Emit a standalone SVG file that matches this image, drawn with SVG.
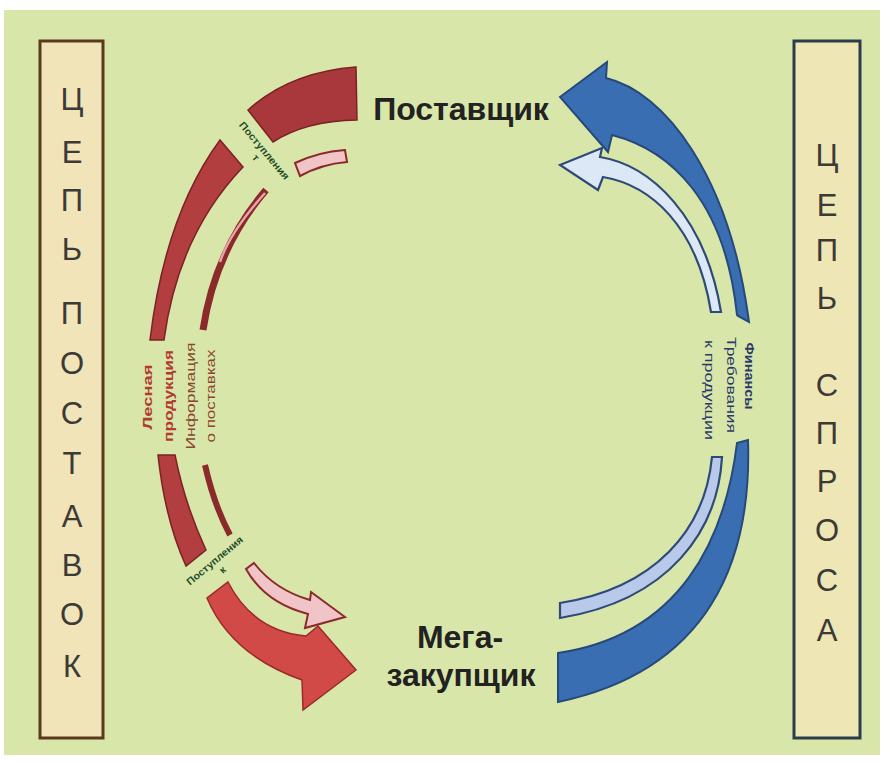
<svg xmlns="http://www.w3.org/2000/svg" width="883" height="763" viewBox="0 0 883 763">
<style>
.bigL{font-family:"Liberation Sans",Arial,sans-serif;font-size:31px;fill:#3b3a36;text-anchor:middle}
.node{font-family:"Liberation Sans",Arial,sans-serif;font-weight:bold;font-size:32px;fill:#222;text-anchor:middle}
.lblR{font-family:"Liberation Sans",Arial,sans-serif;font-size:13px;font-weight:bold;fill:#b23a30;text-anchor:middle}
.lblI{font-family:"Liberation Sans",Arial,sans-serif;font-size:13px;fill:#8a4630;text-anchor:middle}
.lblB{font-family:"Liberation Sans",Arial,sans-serif;font-size:13px;fill:#2a3a6a;text-anchor:middle}
.lblG{font-family:"Liberation Sans",Arial,sans-serif;font-size:10px;font-weight:bold;fill:#1d4d2a;text-anchor:middle}
.redD{fill:#a8383b;stroke:#7a2224;stroke-width:1.5}
.redM{fill:#b23e3f;stroke:#7a2224;stroke-width:1.5}
.redB{fill:#d24a48;stroke:#9a2a2a;stroke-width:1.5}
.pink{fill:#f1c4c8;stroke:#8a2a2a;stroke-width:2}
.blueD{fill:#3a6eb2;stroke:#27497a;stroke-width:2}
.blueL{fill:#dce8f6;stroke:#2e4a78;stroke-width:2.2}
.blueL2{fill:#b9c9ea;stroke:#2e4a78;stroke-width:2.2}
</style>
<rect x="0" y="0" width="883" height="763" fill="#ffffff"/>
<rect x="4" y="10" width="876" height="745" fill="#d9e6a9"/>

<g id="supply-chain">
<rect x="40" y="41" width="63" height="697" fill="#f1e4b9" stroke="#5a3a1a" stroke-width="3"/>
<text class="bigL"><tspan x="72" y="110">Ц</tspan><tspan x="72" y="163">Е</tspan><tspan x="72" y="211">П</tspan><tspan x="72" y="260">Ь</tspan><tspan x="72" y="324">П</tspan><tspan x="72" y="374">О</tspan><tspan x="72" y="424">С</tspan><tspan x="72" y="474">Т</tspan><tspan x="72" y="527">А</tspan><tspan x="72" y="576">В</tspan><tspan x="72" y="625">О</tspan><tspan x="72" y="677">К</tspan></text>
</g>

<g id="demand-chain">
<rect x="794" y="41" width="66" height="697" fill="#efe6b5" stroke="#2c3c4c" stroke-width="3"/>
<text class="bigL"><tspan x="827" y="166">Ц</tspan><tspan x="827" y="216">Е</tspan><tspan x="827" y="261">П</tspan><tspan x="827" y="309">Ь</tspan><tspan x="827" y="396">С</tspan><tspan x="827" y="444">П</tspan><tspan x="827" y="492">Р</tspan><tspan x="827" y="541">О</tspan><tspan x="827" y="591">С</tspan><tspan x="827" y="641">А</tspan></text>
</g>

<g id="supplier">
<text class="node" x="461" y="120">Поставщик</text>
</g>

<g id="mega-buyer">
<text class="node" x="460" y="648">Мега-</text>
<text class="node" x="461" y="686">закупщик</text>
</g>

<g id="connectors">
<path class="redD" d="M248,110 Q290,72 356,67 L357,120 Q305,121 273,142 Z"/>
<path class="redM" d="M220,140 Q165,215 150,340 L164,340 Q178,235 243,167 Z"/>
<path class="pink" d="M295,163 Q318,152 345,150 L347,162 Q322,164 300,176 Z"/>
<path d="M266,190 Q215,250 203,330" fill="none" stroke="#8a2a2a" stroke-width="7"/>
<path d="M265,193 Q230,232 220,262" fill="none" stroke="#e7a2aa" stroke-width="2.5"/>
<path class="redM" d="M158,455 Q165,520 186,566 L206,550 Q185,505 175,455 Z"/>
<path d="M205,465 Q214,505 230,535" fill="none" stroke="#8a2a2a" stroke-width="6"/>
<path class="redB" d="M207,598 Q231,655 302,680 L303,710 L356,670 L318,626 L306,636 Q253,631 228,582 Z"/>
<path class="pink" d="M254,563 Q275,590 310,600 L311,592 L345,617 L305,628 L308,614 Q265,603 246,569 Z"/>
<path class="blueD" d="M560,97 L607,62 L606,78 C665,92 728,175 748,315 L749,322 L738,316 L737,315 C725,200 670,150 612,135 L608,152 Z"/>
<path class="blueL" d="M560,165 L602,148 L600,157 C650,165 705,215 721,312 L711,312 C697,225 650,185 603,177 L598,190 Z"/>
<path class="blueD" d="M737,443 L748,440 C752,560 710,670 558,702 L558,653 C680,635 725,540 737,443 Z"/>
<path class="blueL2" d="M712,457 L722,457 C718,530 670,600 560,618 L560,603 C655,588 705,530 712,457 Z"/>

<g transform="translate(264,151) rotate(50)">
<text class="lblG" x="0" y="3" textLength="72" lengthAdjust="spacingAndGlyphs">Поступления</text>
<text class="lblG" x="0" y="14">т</text>
</g>
<g transform="translate(215,561) rotate(-40)">
<text class="lblG" x="0" y="3" textLength="70" lengthAdjust="spacingAndGlyphs">Поступления</text>
<text class="lblG" x="0" y="15">к</text>
</g>
<text class="lblR" transform="translate(152,397) rotate(-90)" textLength="65" lengthAdjust="spacingAndGlyphs">Лесная</text>
<text class="lblR" transform="translate(173,396) rotate(-90)" textLength="92" lengthAdjust="spacingAndGlyphs">продукция</text>
<text class="lblI" transform="translate(195,396) rotate(-90)" textLength="107" lengthAdjust="spacingAndGlyphs">Информация</text>
<text class="lblI" transform="translate(215,396) rotate(-90)" textLength="93" lengthAdjust="spacingAndGlyphs">о поставках</text>
<text class="lblB" font-weight="bold" transform="translate(745,376) rotate(90)" textLength="67" lengthAdjust="spacingAndGlyphs">Финансы</text>
<text class="lblB" transform="translate(727,385) rotate(90)" textLength="96" lengthAdjust="spacingAndGlyphs">Требования</text>
<text class="lblB" transform="translate(705,390) rotate(90)" textLength="100" lengthAdjust="spacingAndGlyphs">к продукции</text>
</g>
</svg>
